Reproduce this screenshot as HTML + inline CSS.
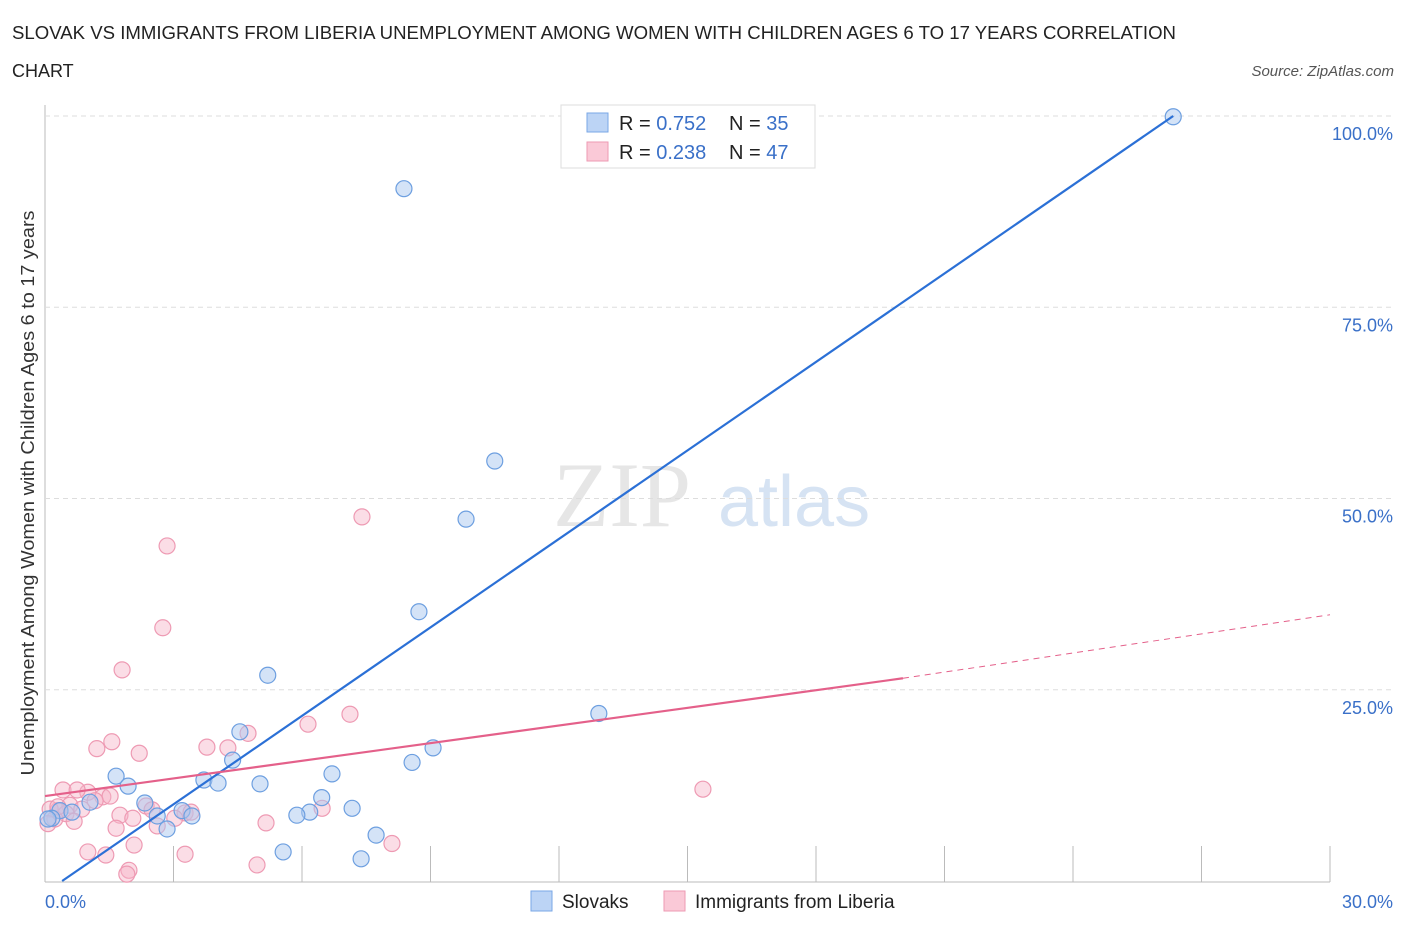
<!DOCTYPE html>
<html><head><meta charset="utf-8">
<style>
body{margin:0;background:#fff;font-family:"Liberation Sans",sans-serif;}
svg{display:block}
</style></head>
<body>
<svg id="chart" width="1406" height="930" xmlns="http://www.w3.org/2000/svg">
<text x="12" y="39" font-size="18" fill="#222" textLength="1164" lengthAdjust="spacingAndGlyphs">SLOVAK VS IMMIGRANTS FROM LIBERIA UNEMPLOYMENT AMONG WOMEN WITH CHILDREN AGES 6 TO 17 YEARS CORRELATION</text>
<text x="12" y="77" font-size="18" fill="#222">CHART</text>
<text x="1394" y="76" font-size="15" fill="#555" font-style="italic" text-anchor="end">Source: ZipAtlas.com</text>
<g>
<text x="553" y="526" font-size="92" fill="#e6e6e6" font-family="Liberation Serif,serif">ZIP</text>
<text x="718" y="526" font-size="72" fill="#d6e3f3">atlas</text>
</g>
<g id="grid"></g>
<g id="marks"></g>
<text transform="translate(34,493) rotate(-90)" font-size="18" fill="#333" text-anchor="middle" textLength="565" lengthAdjust="spacingAndGlyphs">Unemployment Among Women with Children Ages 6 to 17 years</text>
<g>
<rect x="561" y="105" width="254" height="63" fill="#fff" stroke="#ddd"/>
<rect x="587" y="113" width="21" height="19" fill="#bcd4f5" stroke="#7aa7e6"/>
<rect x="587" y="142" width="21" height="19" fill="#fac9d7" stroke="#ee9ab3"/>
<text x="619" y="130" font-size="20" fill="#222">R = <tspan fill="#3a70c8">0.752</tspan></text>
<text x="729" y="130" font-size="20" fill="#222">N = <tspan fill="#3a70c8">35</tspan></text>
<text x="619" y="159" font-size="20" fill="#222">R = <tspan fill="#3a70c8">0.238</tspan></text>
<text x="729" y="159" font-size="20" fill="#222">N = <tspan fill="#3a70c8">47</tspan></text>
</g>
<g>
<rect x="531" y="891" width="21" height="20" fill="#bcd4f5" stroke="#7aa7e6"/>
<text x="562" y="908" font-size="19" fill="#222">Slovaks</text>
<rect x="664" y="891" width="21" height="20" fill="#fac9d7" stroke="#ee9ab3"/>
<text x="695" y="908" font-size="19" fill="#222">Immigrants from Liberia</text>
</g>
</svg>
<script>
const xTicks=[0,3,6,9,12,15,18,21,24,27,30];
const yTicks=[25,50,75,100];
const yTickLabels=["25.0%","50.0%","75.0%","100.0%"];
const xEndLabels=["0.0%","30.0%"];
const slovakX=[26.34,8.38,10.5,9.83,8.73,5.2,12.93,4.55,9.06,4.38,8.57,1.66,6.7,3.71,4.04,5.02,1.94,6.46,1.05,2.33,7.17,3.2,6.18,5.88,3.43,2.62,2.85,7.73,5.56,7.38,0.35,0.16,0.63,0.07,15.38];
const slovakY=[99.9,90.5,54.9,47.3,35.2,26.9,21.9,19.5,17.4,15.8,15.5,13.7,14.0,13.2,12.8,12.7,12.4,10.9,10.3,10.2,9.5,9.2,9.0,8.6,8.5,8.5,6.8,6.0,3.8,2.9,9.2,8.2,9.0,8.1,100.1];
const liberiaX=[7.4,2.85,2.75,1.8,6.14,7.12,1.56,1.21,2.2,3.78,4.74,4.27,1.0,0.42,0.75,1.35,1.52,1.75,2.36,2.5,2.05,2.62,3.27,3.41,3.03,6.47,0.58,0.30,0.49,0.86,0.12,0.23,0.68,1.66,2.08,1.0,1.42,3.27,5.16,8.1,4.95,1.96,1.91,15.36,0.30,1.17,0.07];
const liberiaY=[47.6,43.8,33.1,27.6,20.5,21.8,18.2,17.3,16.7,17.5,19.3,17.4,11.6,11.9,11.9,11.0,11.1,8.6,9.8,9.3,8.2,7.2,8.9,9.0,8.2,9.5,9.9,9.2,8.8,9.4,9.4,8.1,7.8,6.9,4.7,3.8,3.4,3.5,7.6,4.9,2.1,1.4,0.9,12.0,9.7,10.5,7.5];
const slovakLine=[0.4,0,26.34,100];
const liberiaLine=[0,11.1,20.03,26.5,30,34.8];
const X=v=>45+v/30*1285, Y=v=>881-v/100*765;
const NS="http://www.w3.org/2000/svg";
const grid=document.getElementById('grid'), marks=document.getElementById('marks');
function mk(p,tag,a){const e=document.createElementNS(NS,tag);for(const k in a)e.setAttribute(k,a[k]);p.appendChild(e);return e;}
let ax=mk(grid,'line',{x1:45,y1:105,x2:45,y2:882,stroke:'#bbb'});


let bx=mk(grid,'line',{x1:45,y1:882,x2:1330,y2:882,stroke:'#bbb'});


yTicks.forEach((t,i)=>{
 const g=mk(grid,'line',{x1:45,y1:Y(t),x2:1392,y2:Y(t),stroke:'#ddd','stroke-dasharray':'5,4'});
 
 
 const l=mk(grid,'text',{x:1393,y:Y(t)+24,'font-size':18,fill:'#3a70c8','text-anchor':'end'});l.textContent=yTickLabels[i];
 
 
});
xTicks.forEach(t=>{if(t===0)return;
 const g=mk(grid,'line',{x1:X(t),y1:846,x2:X(t),y2:882,stroke:'#bbb'});
 
 
});
const xl0=mk(grid,'text',{x:45,y:908,'font-size':18,fill:'#3a70c8'});xl0.textContent=xEndLabels[0];


const xl1=mk(grid,'text',{x:1393,y:908,'font-size':18,fill:'#3a70c8','text-anchor':'end'});xl1.textContent=xEndLabels[1];


liberiaX.forEach((x,i)=>{const c=mk(marks,'circle',{cx:X(x),cy:Y(liberiaY[i]),r:8,fill:'rgba(246,180,200,0.45)',stroke:'#ee9ab3','stroke-width':1.2});
 
 });
slovakX.forEach((x,i)=>{const c=mk(marks,'circle',{cx:X(x),cy:Y(slovakY[i]),r:8,fill:'rgba(170,200,240,0.5)',stroke:'#6d9fe0','stroke-width':1.2});
 
 });
const bl=mk(marks,'line',{x1:X(slovakLine[0]),y1:Y(slovakLine[1]),x2:X(slovakLine[2]),y2:Y(slovakLine[3]),stroke:'#2b70d6','stroke-width':2.2});


const pl=mk(marks,'line',{x1:X(liberiaLine[0]),y1:Y(liberiaLine[1]),x2:X(liberiaLine[2]),y2:Y(liberiaLine[3]),stroke:'#e4608a','stroke-width':2.2});


const pd=mk(marks,'line',{x1:X(liberiaLine[2]),y1:Y(liberiaLine[3]),x2:X(liberiaLine[4]),y2:Y(liberiaLine[5]),stroke:'#e4608a','stroke-width':1,'stroke-dasharray':'6,5'});


</script>
</body></html>
